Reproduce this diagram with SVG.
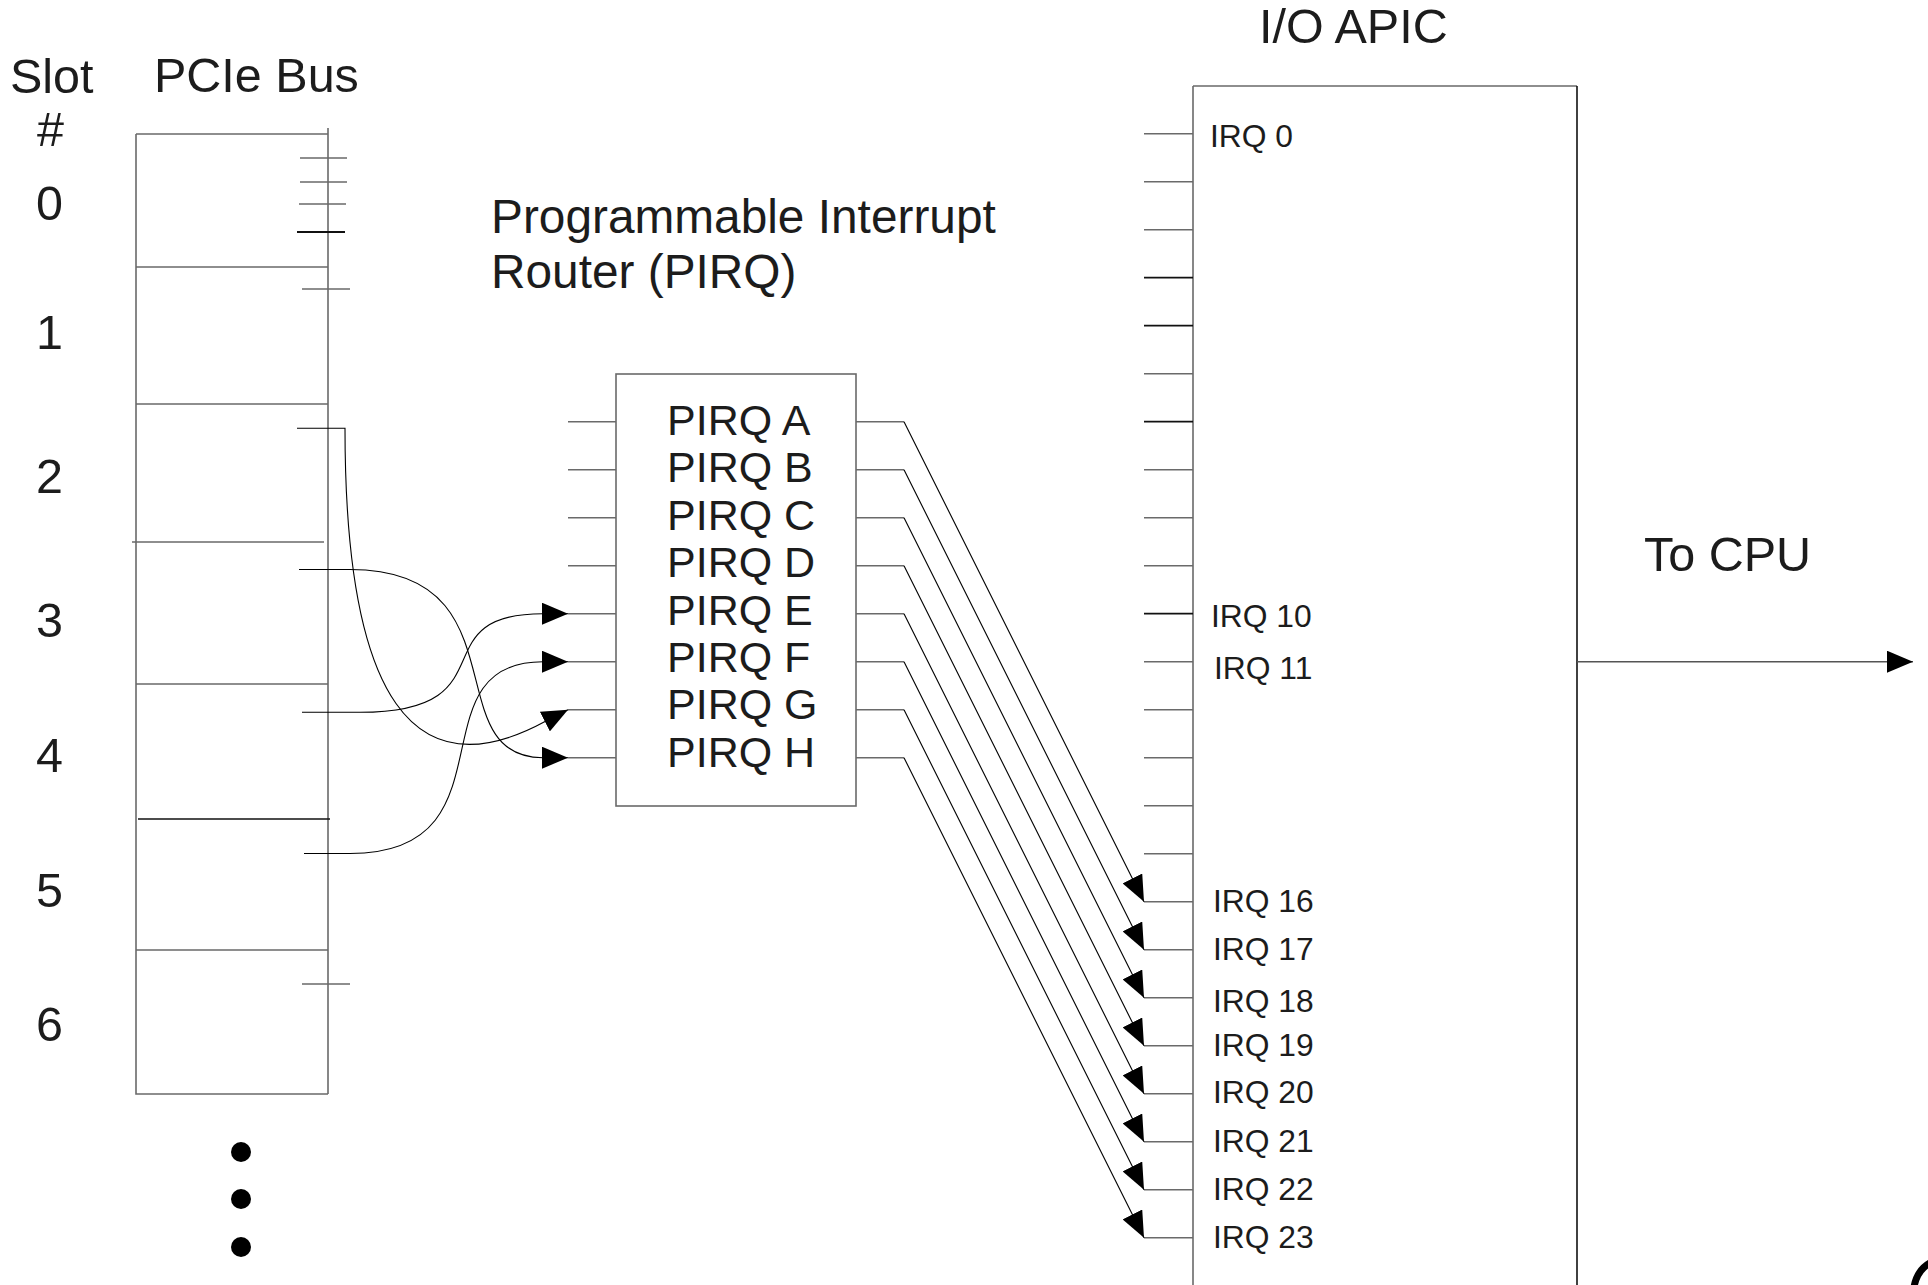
<svg xmlns="http://www.w3.org/2000/svg" width="1928" height="1285" viewBox="0 0 1928 1285">
<defs>
<style>
text{font-family:"Liberation Sans",Arial,sans-serif;fill:#1c1c1c}
.big{font-size:48.5px}
.title{font-size:47.8px}
.pq{font-size:43px}
.irq{font-size:31.8px}
.edge{stroke:#6a6a6a;stroke-width:1.6;fill:none}
.dark{stroke:#111;stroke-width:1.6;fill:none}
.pin{stroke:#6a6a6a;stroke-width:1.6}
.pinD{stroke:#111;stroke-width:1.8}
.wire{stroke:#000;stroke-width:1.1;fill:none}
</style>
<marker id="ah" viewBox="0 0 26 22" refX="26" refY="11" markerWidth="26" markerHeight="22" markerUnits="userSpaceOnUse" orient="auto">
<path d="M0,0 L26,11 L0,22 z" fill="#000"/>
</marker>
</defs>
<rect width="1928" height="1285" fill="#fff"/>

<g id="pcie-bus">
<text class="big" x="10" y="93">Slot</text>
<text class="big" x="37" y="146">#</text>
<text class="big" x="154" y="92">PCIe Bus</text>
<path class="edge" d="M328,128 V1094 M136,134 H328 M136,134 V1094 H328"/>
<path class="edge" d="M136,267 H328 M136,404 H328 M132,542 H324 M136,684 H328 M136,950 H328"/>
<path class="dark" d="M138,819 H330"/>
<path class="pin" d="M300,158 H347 M300,182 H347 M299,204 H346 M302,289 H350 M302,984 H350"/>
<path class="pinD" d="M297,232 H345"/>
<g id="slot-numbers">
<text class="big" x="36" y="220">0</text>
<text class="big" x="36" y="349">1</text>
<text class="big" x="36" y="493">2</text>
<text class="big" x="36" y="637">3</text>
<text class="big" x="36" y="772">4</text>
<text class="big" x="36" y="907">5</text>
<text class="big" x="36" y="1041">6</text>
</g>
<circle cx="241" cy="1152" r="10" fill="#000"/>
<circle cx="241" cy="1199" r="10" fill="#000"/>
<circle cx="241" cy="1247" r="10" fill="#000"/>
</g>

<g id="pirq-router">
<text class="title" x="491" y="233">Programmable Interrupt</text>
<text class="title" x="491" y="288">Router (PIRQ)</text>
<rect class="edge" x="616" y="374" width="240" height="432"/>
<path class="pin" d="M568,421.7 H616 M568,469.7 H616 M568,517.7 H616 M568,565.7 H616 M568,613.7 H616 M568,661.7 H616 M568,709.7 H616 M568,757.7 H616"/>
<path class="pin" d="M856,421.7 H904 M856,469.7 H904 M856,517.7 H904 M856,565.7 H904 M856,613.7 H904 M856,661.7 H904 M856,709.7 H904 M856,757.7 H904"/>
<text class="pq" x="667" y="435">PIRQ A</text>
<text class="pq" x="667" y="482.4">PIRQ B</text>
<text class="pq" x="667" y="529.8">PIRQ C</text>
<text class="pq" x="667" y="577.2">PIRQ D</text>
<text class="pq" x="667" y="624.6">PIRQ E</text>
<text class="pq" x="667" y="672">PIRQ F</text>
<text class="pq" x="667" y="719.4">PIRQ G</text>
<text class="pq" x="667" y="766.8">PIRQ H</text>
</g>

<g id="io-apic">
<text class="big" x="1259" y="43">I/O APIC</text>
<path class="edge" d="M1193,86 H1577 M1193,86 V1290"/>
<path class="dark" d="M1577,86 V1290"/>
<path class="pin" d="M1144,133.7 H1193 M1144,181.7 H1193 M1144,229.7 H1193 M1144,373.7 H1193 M1144,469.7 H1193 M1144,517.7 H1193 M1144,565.7 H1193 M1144,661.7 H1193 M1144,709.7 H1193 M1144,757.7 H1193 M1144,805.7 H1193 M1144,853.7 H1193"/>
<path class="pinD" d="M1144,277.7 H1193 M1144,325.7 H1193 M1144,421.7 H1193 M1144,613.7 H1193"/>
<path class="pin" d="M1144,901.7 H1193 M1144,949.7 H1193 M1144,997.7 H1193 M1144,1045.7 H1193 M1144,1093.7 H1193 M1144,1141.7 H1193 M1144,1189.7 H1193 M1144,1237.7 H1193"/>
<text class="irq" x="1210" y="146.7">IRQ 0</text>
<text class="irq" x="1211" y="626.7">IRQ 10</text>
<text class="irq" x="1214" y="679.3">IRQ 11</text>
<text class="irq" x="1213" y="911.7">IRQ 16</text>
<text class="irq" x="1213" y="960">IRQ 17</text>
<text class="irq" x="1213" y="1011.7">IRQ 18</text>
<text class="irq" x="1213" y="1056">IRQ 19</text>
<text class="irq" x="1213" y="1103">IRQ 20</text>
<text class="irq" x="1213" y="1151.7">IRQ 21</text>
<text class="irq" x="1213" y="1200">IRQ 22</text>
<text class="irq" x="1213" y="1247.7">IRQ 23</text>
</g>

<g id="cpu">
<text class="big" x="1644" y="571">To CPU</text>
</g>

<g id="connectors">
<path class="wire" d="M297,428.3 H345 C345,700 414,793 546,721 L568,709.7" marker-end="url(#ah)"/>
<path class="wire" d="M299,569.5 H350 C525,569.5 435,757.7 543,757.7 L568,757.7" marker-end="url(#ah)"/>
<path class="wire" d="M302,712.3 H360 C513,712.3 418,613.7 543,613.7 L568,613.7" marker-end="url(#ah)"/>
<path class="wire" d="M304,853.5 H350 C518,853.5 411,661.7 543,661.7 L568,661.7" marker-end="url(#ah)"/>
<path class="wire" d="M904,421.7 L1144,901.7" marker-end="url(#ah)"/>
<path class="wire" d="M904,469.7 L1144,949.7" marker-end="url(#ah)"/>
<path class="wire" d="M904,517.7 L1144,997.7" marker-end="url(#ah)"/>
<path class="wire" d="M904,565.7 L1144,1045.7" marker-end="url(#ah)"/>
<path class="wire" d="M904,613.7 L1144,1093.7" marker-end="url(#ah)"/>
<path class="wire" d="M904,661.7 L1144,1141.7" marker-end="url(#ah)"/>
<path class="wire" d="M904,709.7 L1144,1189.7" marker-end="url(#ah)"/>
<path class="wire" d="M904,757.7 L1144,1237.7" marker-end="url(#ah)"/>
<path d="M1577,661.7 H1913" stroke="#555" stroke-width="1.6" fill="none" marker-end="url(#ah)"/>
</g>

<path d="M1914,1287 C1916,1276 1921,1268 1930,1263" stroke="#000" stroke-width="7" fill="none"/>
</svg>
